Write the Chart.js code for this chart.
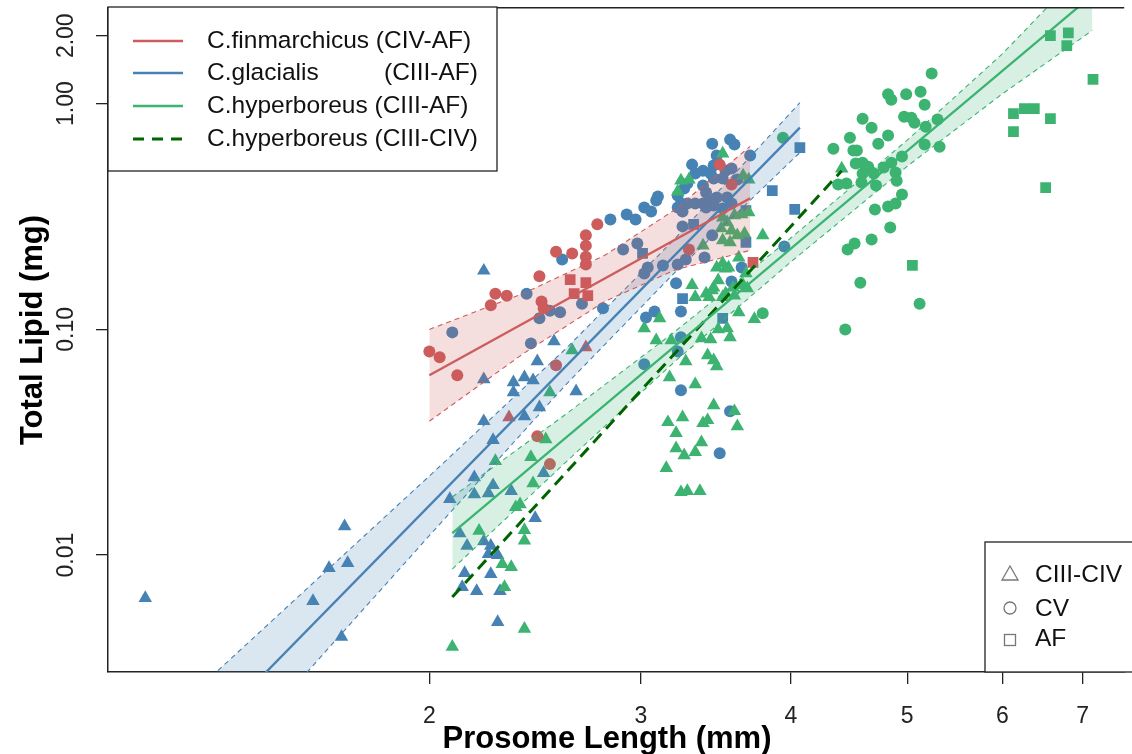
<!DOCTYPE html>
<html>
<head>
<meta charset="utf-8">
<script src="https://cdn.jsdelivr.net/npm/chart.js@4"></script>
<style>
  html, body { margin: 0; padding: 0; background: #fff; overflow: hidden; }
  canvas { display: block; }
</style>
</head>
<body>
<canvas id="lipidChart" width="1132" height="754"></canvas>
<script>
// axis ticks
const xTicks = [2, 3, 4, 5, 6, 7];
const yTicks = [0.01, 0.1, 1, 2];
const yTickLabels = ['0.01', '0.10', '1.00', '2.00'];

// legend entries
const speciesLabels = ['C.finmarchicus (CIV-AF)', 'C.glacialis', 'C.hyperboreus (CIII-AF)', 'C.hyperboreus (CIII-CIV)'];
const stageLabels = ['CIII-CIV', 'CV', 'AF'];

// points: [prosome length (mm), total lipid (mg)]
const finCIV = [[2.70, 0.0832], [2.33, 0.0408]];
const finCV = [[2.00, 0.0799], [2.04, 0.0752], [2.11, 0.0626], [2.25, 0.128], [2.27, 0.144], [2.32, 0.141],
    [2.47, 0.172], [2.55, 0.221], [2.63, 0.217], [2.70, 0.261], [2.70, 0.235], [2.70, 0.210], [2.70, 0.194],
    [2.48, 0.133], [2.49, 0.124], [2.55, 0.0693], [2.46, 0.0336], [2.52, 0.0253], [2.76, 0.292],
    [3.49, 0.537], [3.57, 0.438], [3.29, 0.226]];
const finAF = [[2.62, 0.166], [2.70, 0.161], [2.64, 0.144], [2.71, 0.141], [3.72, 0.198]];

const glaCIII = [[1.16, 0.00645], [1.70, 0.0134], [1.65, 0.00876], [1.71, 0.00922], [1.60, 0.00626], [1.69, 0.00434],
    [2.22, 0.182], [2.54, 0.0885], [2.46, 0.0722], [2.22, 0.0601], [2.35, 0.0583], [2.40, 0.0613], [2.44, 0.0595],
    [2.35, 0.0526], [2.65, 0.0532], [2.22, 0.0392], [2.40, 0.0412], [2.47, 0.0452], [2.26, 0.0323], [2.18, 0.0221],
    [2.08, 0.0177], [2.18, 0.0186], [2.24, 0.0188], [2.26, 0.0204], [2.34, 0.0192], [2.12, 0.0125], [2.15, 0.0110],
    [2.22, 0.0115], [2.25, 0.0110], [2.24, 0.0101], [2.28, 0.0100], [2.45, 0.0146], [2.14, 0.00832], [2.25, 0.00824],
    [2.13, 0.00722], [2.19, 0.00693], [2.29, 0.00693], [2.28, 0.00505], [2.49, 0.0231]];
const glaCV = [[2.09, 0.097], [2.41, 0.144], [2.58, 0.204], [2.47, 0.112], [2.52, 0.121], [2.57, 0.119], [2.68, 0.130],
    [2.79, 0.124], [2.90, 0.226], [2.98, 0.240], [2.43, 0.0867], [2.83, 0.307], [2.92, 0.323], [2.97, 0.307],
    [3.02, 0.347], [3.06, 0.333], [3.09, 0.372], [3.10, 0.388], [3.25, 0.286], [3.44, 0.261], [3.04, 0.188],
    [3.02, 0.177], [3.13, 0.192], [3.22, 0.194], [3.27, 0.204], [3.39, 0.208], [3.21, 0.160], [3.64, 0.188],
    [3.57, 0.163], [3.95, 0.233], [3.44, 0.665], [3.56, 0.693], [3.59, 0.659], [3.47, 0.589], [3.31, 0.537],
    [3.33, 0.490], [3.38, 0.505], [3.43, 0.490], [3.45, 0.532], [3.53, 0.505], [3.57, 0.516], [3.61, 0.461],
    [3.51, 0.466], [3.45, 0.466], [3.38, 0.434], [3.28, 0.443], [3.26, 0.421], [3.22, 0.392], [3.40, 0.404],
    [3.43, 0.372], [3.47, 0.384], [3.54, 0.384], [3.24, 0.361], [3.28, 0.361], [3.33, 0.361], [3.38, 0.361],
    [3.45, 0.354], [3.51, 0.343], [3.57, 0.361], [3.22, 0.347], [3.25, 0.333], [3.40, 0.347], [3.70, 0.589],
    [3.03, 0.113], [3.08, 0.120], [3.24, 0.120], [3.24, 0.0922], [3.22, 0.0799], [3.02, 0.070], [3.24, 0.0537],
    [3.56, 0.0434], [3.49, 0.0283]];
const glaAF = [[4.07, 0.639], [3.86, 0.412], [4.03, 0.340], [3.67, 0.336], [3.67, 0.243], [3.01, 0.217],
    [3.25, 0.137], [3.51, 0.112], [3.32, 0.292]];

const hypCIII = [[2.63, 0.0807], [2.52, 0.0526], [2.27, 0.0261], [2.43, 0.0272], [2.50, 0.0326], [2.44, 0.0208],
    [2.36, 0.0163], [2.38, 0.0168], [2.40, 0.0129], [2.40, 0.0116], [2.30, 0.00912], [2.34, 0.00885], [2.31, 0.00722],
    [2.20, 0.0128], [2.09, 0.00392], [2.40, 0.00471],
    [3.02, 0.101], [3.11, 0.112], [3.09, 0.0894], [3.18, 0.0894], [3.27, 0.0722], [3.17, 0.0613], [3.33, 0.0571],
    [3.41, 0.0767], [3.45, 0.0729], [3.47, 0.0686], [3.37, 0.0912], [3.43, 0.0903], [3.56, 0.0922], [3.48, 0.100],
    [3.54, 0.101], [3.62, 0.119], [3.73, 0.111], [3.40, 0.144], [3.33, 0.139], [3.42, 0.139], [3.51, 0.139],
    [3.45, 0.153], [3.31, 0.157], [3.48, 0.165], [3.59, 0.141], [3.68, 0.152],
    [3.45, 0.0461], [3.25, 0.0408], [3.16, 0.0388], [3.41, 0.0396], [3.38, 0.0384], [3.61, 0.0372], [3.21, 0.0347],
    [3.59, 0.0434], [3.37, 0.0316], [3.33, 0.0286], [3.21, 0.0297], [3.26, 0.0277], [3.15, 0.0243], [3.28, 0.0192],
    [3.36, 0.0192], [3.24, 0.0190],
    [3.24, 0.456], [3.29, 0.461], [3.22, 0.408], [3.51, 0.601], [3.65, 0.480], [3.69, 0.461], [3.51, 0.313],
    [3.54, 0.298], [3.50, 0.280], [3.57, 0.274], [3.51, 0.248], [3.61, 0.261], [3.56, 0.243], [3.66, 0.266],
    [3.59, 0.320], [3.64, 0.323], [3.69, 0.330], [3.79, 0.261], [3.38, 0.235], [3.62, 0.208], [3.67, 0.177],
    [3.47, 0.188], [3.51, 0.196], [3.53, 0.186], [3.55, 0.188], [3.44, 0.149], [3.58, 0.153], [3.65, 0.157],
    [3.53, 0.144], [4.41, 0.516]];
const hypCV = [[5.24, 1.36], [4.82, 1.10], [4.85, 1.04], [4.99, 1.10], [5.13, 1.13], [5.17, 0.99], [4.59, 0.858],
    [4.97, 0.876], [5.04, 0.867], [5.07, 0.824], [4.67, 0.783], [5.18, 0.791], [5.30, 0.850], [4.82, 0.722],
    [4.48, 0.707], [4.73, 0.665], [5.17, 0.659], [5.32, 0.645], [4.34, 0.632], [4.51, 0.620], [4.54, 0.620],
    [4.95, 0.583], [4.53, 0.543], [4.59, 0.548], [4.64, 0.526], [4.78, 0.521], [4.85, 0.548], [4.89, 0.495],
    [4.69, 0.490], [4.59, 0.490], [4.90, 0.456], [4.58, 0.447], [4.38, 0.438], [4.45, 0.443], [4.71, 0.434],
    [4.95, 0.396], [4.70, 0.340], [4.82, 0.350], [4.89, 0.361], [4.84, 0.283], [4.67, 0.250], [4.52, 0.240],
    [4.46, 0.226], [4.57, 0.161], [5.12, 0.130], [3.94, 0.707], [4.44, 0.100], [3.79, 0.118]];
const hypAF = [[6.58, 2.00], [6.81, 2.06], [6.79, 1.81], [7.14, 1.28], [6.13, 0.903], [6.26, 0.950], [6.38, 0.950],
    [6.58, 0.858], [6.13, 0.752], [6.52, 0.425], [5.05, 0.192]];

// fitted lines (end points) and confidence bands
const finLine = [[2.0, 0.0626], [3.7, 0.381]];
const glaLine = [[1.3, 0.0016], [4.07, 0.783]];
const hypLine = [[2.09, 0.0125], [7.13, 3.02]];
const hypYoungLine = [[2.09, 0.00652], [4.41, 0.505]];

const finBandX = [2.0, 2.4, 2.8, 3.2, 3.7];
const finBandLo = [0.0392, 0.0787, 0.133, 0.183, 0.224];
const finBandHi = [0.100, 0.145, 0.213, 0.338, 0.647];
const glaBandX = [1.3, 2.0, 2.6, 3.2, 4.07];
const glaBandLo = [0.000944, 0.0122, 0.0571, 0.178, 0.607];
const glaBandHi = [0.00272, 0.0224, 0.0824, 0.251, 1.01];
const hypBandX = [2.09, 2.6, 3.2, 4.0, 5.0, 6.0, 7.13];
const hypBandLo = [0.00867, 0.0259, 0.0718, 0.199, 0.528, 1.105, 2.11];
const hypBandHi = [0.0181, 0.0422, 0.0974, 0.254, 0.689, 1.661, 4.31];

const red = '#CD5C5C';
const blue = '#4682B4';
const green = '#3CB371';
const darkGreen = '#006400';
const font = '"Liberation Sans", Arial, sans-serif';

const toXY = arr => arr.map(([x, y]) => ({x, y}));
const band = (xs, ys) => xs.map((x, i) => ({x, y: ys[i]}));

function fitLine(data, color, dash, width) {
    return {
        data: toXY(data), showLine: true, borderColor: color, borderWidth: width,
        borderDash: dash, pointRadius: 0, fill: false, order: 0
    };
}

function bandEdge(data, color, fillColor) {
    return {
        data: data, showLine: true, borderColor: color, borderWidth: 1.1,
        borderDash: [5, 4], pointRadius: 0, order: 1,
        fill: fillColor ? '+1' : false, backgroundColor: fillColor || 'transparent'
    };
}

function points(data, color, style, radius) {
    return {
        data: toXY(data), showLine: false, pointStyle: style, pointRadius: radius,
        pointHoverRadius: radius, pointBackgroundColor: color, pointBorderWidth: 0, order: 2
    };
}

// axis labels, top border and the two legend boxes
const decorations = {
    id: 'decorations',
    afterDraw(chart) {
        const {ctx, chartArea: area, scales} = chart;
        ctx.save();
        ctx.strokeStyle = '#222';
        ctx.lineWidth = 1.5;
        ctx.beginPath();
        ctx.moveTo(area.left, area.top);
        ctx.lineTo(area.right, area.top);
        ctx.stroke();

        ctx.fillStyle = '#222';
        ctx.font = '23px ' + font;
        ctx.textAlign = 'center';
        ctx.textBaseline = 'middle';
        xTicks.forEach(v => ctx.fillText(String(v), scales.x.getPixelForValue(v), 717));
        yTicks.forEach((v, i) => {
            ctx.save();
            ctx.translate(67, scales.y.getPixelForValue(v));
            ctx.rotate(-Math.PI / 2);
            ctx.fillText(yTickLabels[i], 0, 0);
            ctx.restore();
        });

        ctx.fillStyle = '#000';
        ctx.font = 'bold 31px ' + font;
        ctx.textBaseline = 'alphabetic';
        ctx.fillText('Prosome Length (mm)', 607, 748);
        ctx.save();
        ctx.translate(42, 330);
        ctx.rotate(-Math.PI / 2);
        ctx.fillText('Total Lipid (mg)', 0, 0);
        ctx.restore();

        // species legend
        ctx.fillStyle = '#fff';
        ctx.fillRect(108, 7, 389, 164);
        ctx.strokeStyle = '#222';
        ctx.lineWidth = 1.3;
        ctx.strokeRect(108, 7, 389, 164);
        const rows = [41, 73, 106, 139];
        const lineColors = [red, blue, green, darkGreen];
        ctx.font = '24.5px ' + font;
        ctx.textAlign = 'left';
        ctx.textBaseline = 'middle';
        rows.forEach((ry, i) => {
            ctx.strokeStyle = lineColors[i];
            ctx.lineWidth = i === 3 ? 3 : 2.5;
            ctx.setLineDash(i === 3 ? [11, 8] : []);
            ctx.beginPath();
            ctx.moveTo(133, ry);
            ctx.lineTo(183, ry);
            ctx.stroke();
            ctx.setLineDash([]);
            ctx.fillStyle = '#111';
            ctx.fillText(speciesLabels[i], 207, ry);
        });
        ctx.fillText('(CIII-AF)', 384, rows[1]);

        // stage legend
        ctx.fillStyle = '#fff';
        ctx.fillRect(985, 542, 200, 130);
        ctx.strokeStyle = '#222';
        ctx.lineWidth = 1.3;
        ctx.strokeRect(985, 542, 200, 130);
        ctx.strokeStyle = '#777';
        ctx.beginPath();
        ctx.moveTo(1010, 566); ctx.lineTo(1018, 580); ctx.lineTo(1002, 580); ctx.closePath();
        ctx.stroke();
        ctx.beginPath();
        ctx.arc(1010, 608, 6, 0, Math.PI * 2);
        ctx.stroke();
        ctx.strokeRect(1004.5, 634.5, 11, 11);
        ctx.fillStyle = '#111';
        ctx.font = '24.5px ' + font;
        [575, 609, 639].forEach((ry, i) => ctx.fillText(stageLabels[i], 1035, ry));
        ctx.restore();
    }
};

new Chart(document.getElementById('lipidChart'), {
    type: 'scatter',
    data: {
        datasets: [
            fitLine(finLine, red, [], 2.3),
            fitLine(glaLine, blue, [], 2.3),
            fitLine(hypLine, green, [], 2.3),
            fitLine(hypYoungLine, darkGreen, [12, 7], 3),
            bandEdge(band(finBandX, finBandHi), red, 'rgba(205, 92, 92, 0.2)'),
            bandEdge(band(finBandX, finBandLo), red),
            bandEdge(band(glaBandX, glaBandHi), blue, 'rgba(70, 130, 180, 0.2)'),
            bandEdge(band(glaBandX, glaBandLo), blue),
            bandEdge(band(hypBandX, hypBandHi), green, 'rgba(60, 179, 113, 0.2)'),
            bandEdge(band(hypBandX, hypBandLo), green),
            points(finCIV, red, 'triangle', 7.8),
            points(finCV, red, 'circle', 6),
            points(finAF, red, 'rect', 7.6),
            points(hypCIII, green, 'triangle', 7.8),
            points(hypCV, green, 'circle', 6),
            points(hypAF, green, 'rect', 7.6),
            points(glaCIII, blue, 'triangle', 7.8),
            points(glaCV, blue, 'circle', 6),
            points(glaAF, blue, 'rect', 7.6)
        ]
    },
    options: {
        responsive: false,
        animation: false,
        layout: {padding: {top: 7, left: 0, right: 0, bottom: 0}},
        plugins: {
            legend: {display: false},
            tooltip: {enabled: false}
        },
        scales: {
            x: {
                type: 'logarithmic',
                min: 1.08,
                max: 7.58,
                afterBuildTicks: scale => { scale.ticks = xTicks.map(v => ({value: v})); },
                afterFit: scale => { scale.height = 82; },
                ticks: {display: false},
                grid: {display: true, drawOnChartArea: false, drawTicks: true, tickLength: 12, color: '#222', lineWidth: 1.3},
                border: {display: true, color: '#222', width: 1.5}
            },
            y: {
                type: 'logarithmic',
                min: 0.003035,
                max: 2.659,
                afterBuildTicks: scale => { scale.ticks = yTicks.map(v => ({value: v})); },
                afterFit: scale => { scale.width = 108; },
                ticks: {display: false},
                grid: {display: true, drawOnChartArea: false, drawTicks: true, tickLength: 12, color: '#222', lineWidth: 1.3},
                border: {display: true, color: '#222', width: 1.5}
            }
        }
    },
    plugins: [decorations]
});
</script>
</body>
</html>
